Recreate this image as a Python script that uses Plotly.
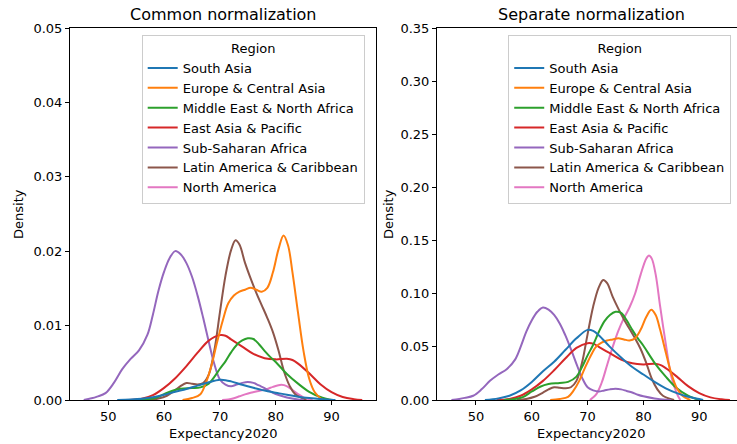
"""
KDE of life expectancy 2020 by region: common vs separate normalization
"""
import numpy as np
import plotly.graph_objects as go
from plotly.subplots import make_subplots

regions = ["South Asia", "Europe & Central Asia", "Middle East & North Africa",
           "East Asia & Pacific", "Sub-Saharan Africa", "Latin America & Caribbean",
           "North America"]
colors = ["#1f77b4", "#ff7f0e", "#2ca02c", "#d62728", "#9467bd", "#8c564b", "#e377c2"]

# share of countries in each region (common peak / separate peak)
shares = [0.041, 0.26, 0.10, 0.163, 0.23, 0.19, 0.015]

# separate-normalization densities
sa_x = [51.6, 54, 56, 58, 60, 62, 64, 66, 68, 70, 71, 72, 74, 76, 78, 80, 82, 84, 86, 88, 90, 90.7]
sa_y = [0, 0.0015, 0.004, 0.009, 0.017, 0.027, 0.036, 0.047, 0.058, 0.066, 0.065, 0.061,
        0.050, 0.040, 0.031, 0.024, 0.017, 0.011, 0.0065, 0.003, 0.001, 0]

eca_x = [63.3, 65, 66.5, 67.5, 68.5, 69.5, 70.5, 71.5, 72.5, 73.5, 74.5, 75.5, 76.5, 77.5,
         78.5, 79.5, 80.5, 81.4, 82.2, 83, 84, 85, 86, 87, 88.4]
eca_y = [0, 0.001, 0.003, 0.009, 0.018, 0.030, 0.041, 0.050, 0.054, 0.056, 0.057, 0.058,
         0.057, 0.056, 0.058, 0.066, 0.078, 0.085, 0.080, 0.066, 0.045, 0.025, 0.011, 0.004, 0]

mena_x = [55, 57, 58.5, 60, 61.5, 63, 65, 66.5, 68, 69, 70, 71, 72, 73, 74, 75, 76, 77, 78,
          79, 80, 82, 84, 86, 88, 90]
mena_y = [0, 0.001, 0.003, 0.008, 0.0125, 0.015, 0.016, 0.017, 0.022, 0.031, 0.042, 0.052,
          0.064, 0.074, 0.080, 0.083, 0.082, 0.075, 0.066, 0.058, 0.051, 0.035, 0.022, 0.011,
          0.004, 0]

eap_x = [53.7, 56, 58, 60, 62, 64, 66, 68, 70, 71, 72, 74, 76, 78, 80, 82, 83, 84, 86, 88,
         90, 92, 94, 95.5]
eap_y = [0, 0.001, 0.004, 0.010, 0.018, 0.028, 0.039, 0.049, 0.0535, 0.053, 0.050, 0.044,
         0.038, 0.0345, 0.0335, 0.034, 0.033, 0.030, 0.022, 0.013, 0.0065, 0.0025, 0.0007, 0]

ssa_x = [45.6, 47, 48, 49.5, 51, 52.5, 54, 55.5, 57, 58, 59, 60, 61, 62, 63, 64, 65, 66, 67,
         68, 69, 70, 71, 72, 73, 74, 75, 76, 77, 78, 79, 80, 82, 84, 85]
ssa_y = [0, 0.001, 0.002, 0.004, 0.010, 0.018, 0.024, 0.029, 0.038, 0.050, 0.064, 0.075,
         0.083, 0.087, 0.085, 0.080, 0.072, 0.061, 0.048, 0.034, 0.021, 0.012, 0.009, 0.008,
         0.009, 0.010, 0.0105, 0.010, 0.0085, 0.007, 0.005, 0.0035, 0.0015, 0.0003, 0]

lac_x = [57.3, 59, 60.5, 62, 63, 64, 65, 66, 67, 68, 69, 70, 71, 72, 72.8, 73.5, 74.5, 75.5,
         76.5, 77.5, 78.5, 79.5, 80.5, 81.5, 82.5, 83.5, 85.5]
lac_y = [0, 0.001, 0.003, 0.007, 0.010, 0.012, 0.0115, 0.011, 0.012, 0.018, 0.035, 0.062,
         0.088, 0.106, 0.113, 0.110, 0.097, 0.086, 0.076, 0.067, 0.058, 0.048, 0.035, 0.020,
         0.010, 0.004, 0]

na_x = [70.4, 71.5, 72.5, 73.5, 74.5, 75.5, 76.5, 77.5, 78.5, 79.5, 80.5, 81, 81.5, 82.2,
        83, 84, 85, 86, 86.6]
na_y = [0, 0.005, 0.016, 0.033, 0.050, 0.065, 0.077, 0.087, 0.100, 0.118, 0.133, 0.136,
        0.133, 0.118, 0.088, 0.053, 0.022, 0.006, 0]

curves = [(sa_x, sa_y), (eca_x, eca_y), (mena_x, mena_y), (eap_x, eap_y),
          (ssa_x, ssa_y), (lac_x, lac_y), (na_x, na_y)]

FONT = "DejaVu Sans"

fig = make_subplots(rows=1, cols=2)

# seaborn draws the first hue level on top, so add traces in reverse
for i in reversed(range(len(regions))):
    x, y = curves[i]
    y = np.array(y)
    fig.add_trace(go.Scatter(x=x, y=y * shares[i], mode="lines", name=regions[i],
                             line=dict(color=colors[i], width=2, shape="spline"),
                             legend="legend", legendrank=i, hoverinfo="skip"),
                  row=1, col=1)
    fig.add_trace(go.Scatter(x=x, y=y, mode="lines", name=regions[i],
                             line=dict(color=colors[i], width=2, shape="spline"),
                             legend="legend2", legendrank=i, hoverinfo="skip"),
                  row=1, col=2)

legend_style = dict(
    xanchor="left", yanchor="top", y=0.981,
    bgcolor="rgba(255,255,255,0.8)", bordercolor="#cccccc", borderwidth=1,
    font=dict(family=FONT, size=13, color="#000000"),
    title=dict(text="Region", side="top center", font=dict(family=FONT, size=13)),
    tracegroupgap=0,
)

fig.update_layout(
    width=737, height=444,
    margin=dict(l=70, r=0, t=28, b=44, autoexpand=False),
    paper_bgcolor="white", plot_bgcolor="white",
    font=dict(family=FONT, size=13, color="#000000"),
    legend=dict(x=0.1075, **legend_style),
    legend2=dict(x=0.657, **legend_style),
    showlegend=True,
)

axis_common = dict(showline=True, linecolor="black", linewidth=1, ticks="outside",
                   ticklen=4, tickcolor="black", showgrid=False, zeroline=False,
                   tickfont=dict(family=FONT, size=13, color="black"))

fig.update_xaxes(**axis_common, tickvals=[50, 60, 70, 80, 90], mirror=True)
fig.update_layout(
    xaxis=dict(domain=[0, 0.4588], range=[43.14, 97.97]),
    xaxis2=dict(domain=[0.5502, 1], range=[43.01, 96.77]),
)
fig.update_yaxes(**axis_common)
fig.update_layout(
    yaxis=dict(range=[0, 0.05], tickvals=[0, 0.01, 0.02, 0.03, 0.04, 0.05],
               tickformat=".2f", mirror=True),
    yaxis2=dict(range=[0, 0.35], tickvals=[0, 0.05, 0.1, 0.15, 0.2, 0.25, 0.3, 0.35],
                tickformat=".2f", mirror=False),
)

# titles and axis labels
texts = [
    ("Common normalization", 0.2294, 1.0, 0, 16, "bottom", 2),
    ("Separate normalization", 0.7823, 1.0, 0, 16, "bottom", 2),
    ("Expectancy2020", 0.2294, -0.09, 0, 13, "middle", 0),
    ("Expectancy2020", 0.7823, -0.09, 0, 13, "middle", 0),
    ("Density", -0.078, 0.5, -90, 13, "middle", 0),
    ("Density", 0.4768, 0.5, -90, 13, "middle", 0),
]
for text, x, y, angle, size, yanchor, shift in texts:
    fig.add_annotation(text=text, xref="paper", yref="paper", x=x, y=y,
                       xanchor="center", yanchor=yanchor, yshift=shift,
                       textangle=angle, showarrow=False,
                       font=dict(family=FONT, size=size, color="black"))

# the page's default body margin would push the figure off by 8px
fig.write_html("out.html", config={"displayModeBar": False},
               post_script="document.body.style.margin = '0px';")
